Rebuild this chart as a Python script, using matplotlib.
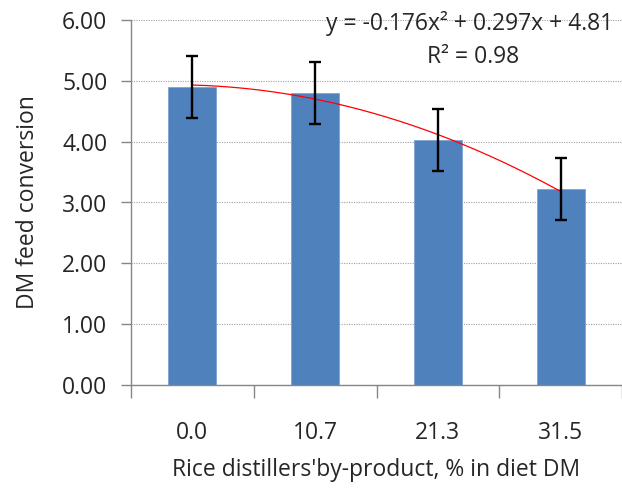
import matplotlib
matplotlib.use("Agg")
import matplotlib.pyplot as plt
import numpy as np

categories = ["0.0", "10.7", "21.3", "31.5"]
values = [4.90, 4.80, 4.03, 3.22]
errors = [0.51, 0.51, 0.51, 0.51]
trend_coef = [-0.176, 0.297, 4.81]
equation = "y = -0.176x² + 0.297x + 4.81"
r2_text = "R² = 0.98"
yticks = [0, 1, 2, 3, 4, 5, 6]

plt.rcParams['font.family'] = ['Open Sans', 'DejaVu Sans']
fs = 16.5
gray = "#868686"
text_col = "#262626"

fig = plt.figure(figsize=(6.22, 4.98), dpi=100)
ax = fig.add_axes([131/622, 1-385/498, 1-131/622, (385-20)/498])

x = np.arange(len(categories))
ax.bar(x, values, width=0.39, color="#4F81BD", edgecolor="#7FA3D0", linewidth=0.6, zorder=2)
ax.errorbar(x, values, yerr=errors, fmt='none', ecolor='black', elinewidth=1.7,
            capsize=4.5, capthick=1.7, zorder=4)

xx = np.linspace(1, len(categories), 200)
ax.plot(xx - 1, np.polyval(trend_coef, xx), color='#FF0000', lw=0.9, zorder=3)

ax.set_xlim(-0.5, len(categories) - 0.5)
ax.set_ylim(0, 6)
ax.set_yticks(yticks)
ax.set_yticklabels([f"{v:.2f}" for v in yticks])
ax.yaxis.grid(True, linestyle=(0, (1, 1.2)), color="#A0A0A0", lw=0.8, zorder=0)
ax.set_axisbelow(True)

ax.set_xticks(x)
ax.set_xticklabels(categories)
ax.set_xticks(np.arange(-0.5, len(categories) + 0.5, 1), minor=True)
ax.tick_params(axis='x', which='major', length=0, pad=26, labelsize=fs, labelcolor=text_col)
ax.tick_params(axis='x', which='minor', length=9, direction='out', color=gray, width=1)
ax.tick_params(axis='y', length=7, direction='out', color=gray, width=1, pad=10,
               labelsize=fs, labelcolor=text_col)

for s in ['top', 'right']:
    ax.spines[s].set_visible(False)
for s in ['left', 'bottom']:
    ax.spines[s].set_color(gray)
    ax.spines[s].set_linewidth(1)

ax.set_xlabel("Rice distillers'by-product, % in diet DM", fontsize=fs, color=text_col)
ax.xaxis.set_label_coords(0.5, -0.2)
ax.set_ylabel("DM feed conversion", fontsize=fs, color=text_col)
ax.yaxis.set_label_coords(-0.185, 0.5)

fig.text(470/622, 1-23/498, equation, ha='center', va='center', fontsize=fs, color=text_col)
fig.text(473/622, 1-57/498, r2_text, ha='center', va='center', fontsize=fs, color=text_col)

fig.savefig("out.png", dpi=100)
